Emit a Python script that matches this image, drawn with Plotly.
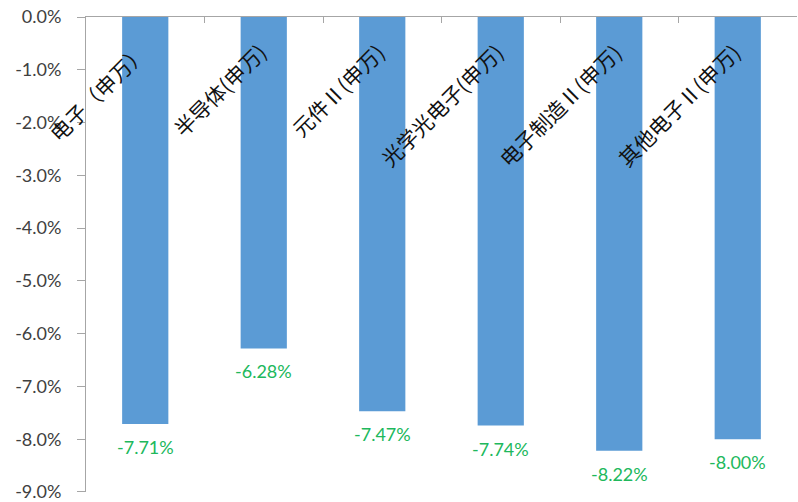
import plotly.graph_objects as go

categories = ["电子（申万）", "半导体(申万)", "元件Ⅱ(申万)", "光学光电子(申万)", "电子制造Ⅱ(申万)", "其他电子Ⅱ(申万)"]
values = [-7.71, -6.28, -7.47, -7.74, -8.22, -8.00]
tick_vals = [0, -1, -2, -3, -4, -5, -6, -7, -8, -9]
tick_text = ["0.0%", "-1.0%", "-2.0%", "-3.0%", "-4.0%", "-5.0%", "-6.0%", "-7.0%", "-8.0%", "-9.0%"]
value_labels = [f"{v:.2f}%" for v in values]

fig = go.Figure()
fig.add_trace(go.Bar(
    x=categories, y=values,
    marker=dict(color="#5B9BD5", line=dict(width=0)),
    hoverinfo="skip",
))

annotations = []
for c, v, t in zip(categories, values, value_labels):
    annotations.append(dict(
        x=c, y=v, xref="x", yref="y", text=t, showarrow=False,
        xanchor="center", yanchor="top", yshift=-10,
        font=dict(family="Lato, Liberation Sans, sans-serif", size=18, color="#20B85C"),
    ))
for c in categories:
    annotations.append(dict(
        x=c, y=-0.33, xref="x", yref="y", text=c, showarrow=False,
        textangle=-45, xanchor="right", yanchor="top", xshift=11,
        font=dict(family="Noto Sans CJK SC, sans-serif", size=21, color="#111111"),
    ))

fig.update_layout(
    width=798, height=502,
    margin=dict(l=86, r=1, t=17, b=10, autoexpand=False),
    paper_bgcolor="white", plot_bgcolor="white",
    showlegend=False,
    bargap=0.61,
    annotations=annotations,
    xaxis=dict(
        side="top", showline=True, linecolor="#A6A6A6", linewidth=1,
        range=[-0.5, len(categories) - 0.5], autorange=False,
        showticklabels=False, ticks="inside", ticklen=6, tickcolor="#A6A6A6",
        tickson="boundaries", showgrid=False, zeroline=False,
    ),
    yaxis=dict(
        range=[-9.0001, 0], autorange=False, tickvals=tick_vals, ticktext=tick_text,
        showline=True, linecolor="#A6A6A6", linewidth=1,
        ticks="outside", ticklen=8, tickcolor="#A6A6A6",
        ticklabelstandoff=12, ticklabeloverflow="allow",
        tickfont=dict(family="Lato, Liberation Sans, sans-serif", size=18, color="#404040"),
        showgrid=False, zeroline=False,
    ),
)

fig.write_html(
    "out.html",
    config={"displayModeBar": False},
    post_script="document.body.style.margin='0';document.body.style.padding='0';",
)
